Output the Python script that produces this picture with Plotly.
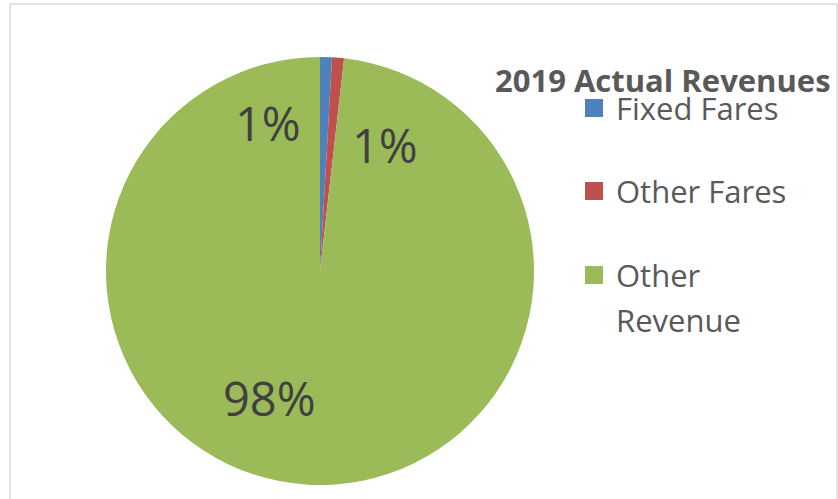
import textwrap
import plotly.graph_objects as go

# ---- data ----
title_text = "2019 Actual Revenues"
categories = ["Fixed Fares", "Other Fares", "Other Revenue"]
values = [0.9, 0.9, 98.2]
colors = ["#4F81BD", "#C0504D", "#9BBB59"]

W, H = 838, 499

def px(x):
    return x / W

def py(y):
    return 1 - y / H

# pie geometry (pixels)
cx, cy, r = 320, 271, 214

fig = go.Figure()
fig.add_trace(go.Pie(
    labels=categories,
    values=values,
    marker=dict(colors=colors, line=dict(width=0)),
    sort=False,
    direction="clockwise",
    rotation=0,
    textinfo="none",
    hoverinfo="label+percent",
    showlegend=False,
    domain=dict(x=[px(cx - r), px(cx + r)], y=[py(cy + r), py(cy - r)]),
))

total = sum(values)
label_pos = [(268, 123), (385, 145), (269, 398)]
annotations = []
for v, (lx, ly) in zip(values, label_pos):
    annotations.append(dict(
        x=px(lx), y=py(ly), xref="paper", yref="paper",
        text=f"{round(v / total * 100)}%", showarrow=False,
        font=dict(family="Open Sans", size=47, color="#404040"),
        xanchor="center", yanchor="middle",
    ))

# title
annotations.append(dict(
    x=px(663), y=py(80), xref="paper", yref="paper",
    text=f"<b>{title_text}</b>", showarrow=False,
    font=dict(family="Open Sans", size=31, color="#595959"),
    xanchor="center", yanchor="middle",
))

# legend (manual)
shapes = []
leg_y = [108, 191, 275]
for cat, col, ly in zip(categories, colors, leg_y):
    shapes.append(dict(type="rect", xref="paper", yref="paper",
                       x0=px(585), x1=px(603), y0=py(ly - 9), y1=py(ly + 9),
                       fillcolor=col, line=dict(width=0)))
    for i, line in enumerate(textwrap.wrap(cat, width=12)):
        annotations.append(dict(
            x=px(614), y=py(ly + i * 45), xref="paper", yref="paper",
            text=line, showarrow=False,
            font=dict(family="Open Sans", size=31, color="#595959"),
            xanchor="left", yanchor="middle",
        ))

# chart border
shapes.append(dict(type="rect", xref="paper", yref="paper",
                   x0=px(10), x1=px(837), y0=py(510), y1=py(4),
                   line=dict(color="#D9D9D9", width=1.5), fillcolor="rgba(0,0,0,0)"))

fig.update_layout(
    width=W, height=H,
    margin=dict(l=0, r=0, t=0, b=0),
    paper_bgcolor="white",
    plot_bgcolor="white",
    annotations=annotations,
    shapes=shapes,
)

fig.write_html("out.html", config={"displayModeBar": False},
               post_script="document.body.style.margin='0';")
